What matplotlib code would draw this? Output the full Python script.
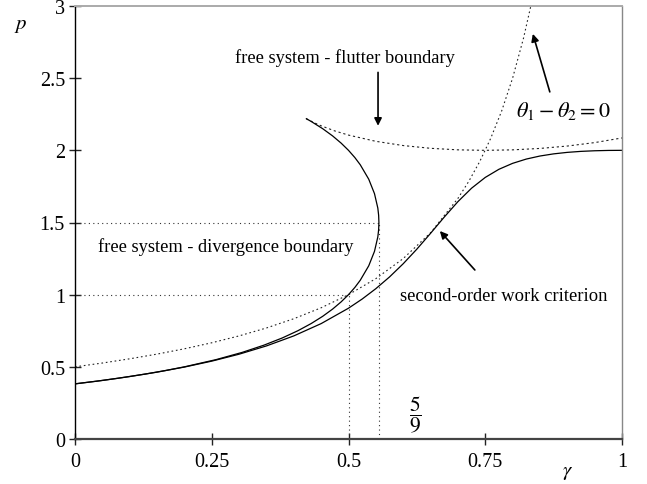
import matplotlib
matplotlib.use("Agg")
import matplotlib.pyplot as plt

plt.rcParams['font.family'] = ['Liberation Serif', 'DejaVu Serif']
plt.rcParams['mathtext.fontset'] = 'stix'

##############################################################################################
# free system - divergence boundary (gamma, p)
div_gamma = [0.000, 0.0385, 0.0772, 0.1285, 0.1662, 0.200, 0.2579, 0.3056, 0.3453, 0.3789,
             0.4074, 0.4318, 0.4528, 0.4709, 0.4865, 0.500, 0.5116, 0.5215, 0.5370, 0.5475,
             0.5536, 0.5551, 0.5556, 0.5551, 0.5536, 0.5475, 0.5370, 0.5215, 0.5116, 0.500,
             0.4865, 0.4709, 0.4528, 0.4318, 0.4230]
div_p = [0.382, 0.40, 0.42, 0.45, 0.475, 0.50, 0.55, 0.60, 0.65, 0.70,
         0.75, 0.80, 0.85, 0.90, 0.95, 1.00, 1.05, 1.10, 1.20, 1.30,
         1.40, 1.45, 1.50, 1.55, 1.60, 1.70, 1.80, 1.90, 1.95, 2.00,
         2.05, 2.10, 2.15, 2.20, 2.219]

# second-order work criterion
sow_gamma = [0.0, 0.05, 0.1, 0.15, 0.2, 0.25, 0.3, 0.35, 0.4, 0.45, 0.5, 0.525, 0.55, 0.575,
             0.6, 0.625, 0.65, 0.675, 0.7, 0.725, 0.75, 0.775, 0.8, 0.825, 0.85, 0.875,
             0.9, 0.925, 0.95, 0.975, 1.0]
sow_p = [0.382, 0.4057, 0.4326, 0.4632, 0.4984, 0.5394, 0.5876, 0.6449, 0.7143, 0.7995,
         0.9062, 0.9698, 1.0416, 1.1228, 1.2142, 1.3156, 1.4249, 1.5374, 1.6444, 1.7377,
         1.8123, 1.8687, 1.9098, 1.9395, 1.9606, 1.9755, 1.9859, 1.9928, 1.9970, 1.9993, 2.0]

# theta1 - theta2 = 0
th_gamma = [0.0, 0.05, 0.1, 0.15, 0.2, 0.25, 0.3, 0.35, 0.4, 0.45, 0.5, 0.55, 0.6, 0.65,
            0.7, 0.72, 0.74, 0.76, 0.78, 0.8, 0.82, 0.8333]
th_p = [0.5, 0.5263, 0.5556, 0.5882, 0.625, 0.6667, 0.7143, 0.7692, 0.8333, 0.9091, 1.0,
        1.1111, 1.25, 1.4286, 1.6667, 1.7857, 1.9231, 2.0833, 2.2727, 2.5, 2.7778, 3.0]

# free system - flutter boundary
flu_gamma = [0.4227, 0.43, 0.44, 0.45, 0.475, 0.5, 0.55, 0.6, 0.65, 0.7, 0.75, 0.8, 0.85,
             0.9, 0.95, 1.0]
flu_p = [2.2192, 2.2049, 2.1865, 2.1699, 2.1344, 2.1056, 2.0624, 2.0331, 2.0140, 2.0034,
         2.0, 2.0033, 2.0131, 2.0297, 2.0536, 2.0858]

# guide lines
guide_h = [(1.5, 5 / 9), (1.0, 0.5)]
guide_v = [(0.5, 1.0), (5 / 9, 1.5)]

x_ticks = [0, 0.25, 0.5, 0.75, 1]
x_labels = ['0', '0.25', '0.5', '0.75', '1']
y_ticks = [0, 0.5, 1, 1.5, 2, 2.5, 3]
y_labels = ['0', '0.5', '1', '1.5', '2', '2.5', '3']
##############################################################################################

fig = plt.figure(figsize=(6.47, 4.85), dpi=100)
ax = fig.add_axes([75 / 647, 45 / 485, 547 / 647, 433 / 485])

for p, g in guide_h:
    ax.plot([0, g], [p, p], color='#333333', lw=0.8, ls=(0, (1, 3)))
for g, p in guide_v:
    ax.plot([g, g], [0, p], color='#333333', lw=0.8, ls=(0, (1, 3)))

ax.plot(th_gamma, th_p, color='#222222', lw=0.8, ls=(0, (1.5, 2.5)))
ax.plot(flu_gamma, flu_p, color='#222222', lw=0.8, ls=(0, (2, 2.5)))
ax.plot(div_gamma, div_p, color='black', lw=0.9)
ax.plot(sow_gamma, sow_p, color='black', lw=0.9)

ax.set_xlim(0, 1)
ax.set_ylim(0, 3)
ax.set_xticks(x_ticks)
ax.set_xticklabels(x_labels)
ax.set_yticks(y_ticks)
ax.set_yticklabels(y_labels)
ax.tick_params(direction='inout', length=8.5, width=1, labelsize=14.5, color='#222222')
ax.tick_params(axis='x', pad=5)
ax.tick_params(axis='y', pad=3)

ax.spines['left'].set_color('black')
ax.spines['left'].set_linewidth(1.0)
ax.spines['bottom'].set_color('#444444')
ax.spines['bottom'].set_linewidth(1.6)
ax.spines['top'].set_color('#aaaaaa')
ax.spines['top'].set_linewidth(1.4)
ax.spines['right'].set_color('#888888')
ax.spines['right'].set_linewidth(1.0)

ax.text(-0.0987, 0.949, r'$p$', transform=ax.transAxes, fontsize=15, ha='center', va='baseline')
ax.text(0.901, -0.083, r'$\gamma$', transform=ax.transAxes, fontsize=15, ha='center', va='baseline')

ax.text(0.2925, 2.61, 'free system - flutter boundary', fontsize=13.3, ha='left', va='baseline')
ax.text(0.042, 1.305, 'free system - divergence boundary', fontsize=13.3, ha='left', va='baseline')
ax.text(0.594, 0.965, 'second-order work criterion', fontsize=13.3, ha='left', va='baseline')
ax.text(0.806, 2.24, r'$\theta_1 - \theta_2 = 0$', fontsize=16, ha='left', va='baseline')
ax.text(0.6216, 0.173, r'$\dfrac{5}{9}$', fontsize=15.5, ha='center', va='center')

arrow = dict(arrowstyle='-|>', color='black', lw=1.2, mutation_scale=11, shrinkA=0, shrinkB=0)
ax.annotate('', xy=(0.554, 2.17), xytext=(0.554, 2.54), arrowprops=arrow)
ax.annotate('', xy=(0.667, 1.441), xytext=(0.731, 1.171), arrowprops=arrow)
ax.annotate('', xy=(0.837, 2.807), xytext=(0.868, 2.405), arrowprops=arrow)

fig.savefig('out.png', dpi=100)
